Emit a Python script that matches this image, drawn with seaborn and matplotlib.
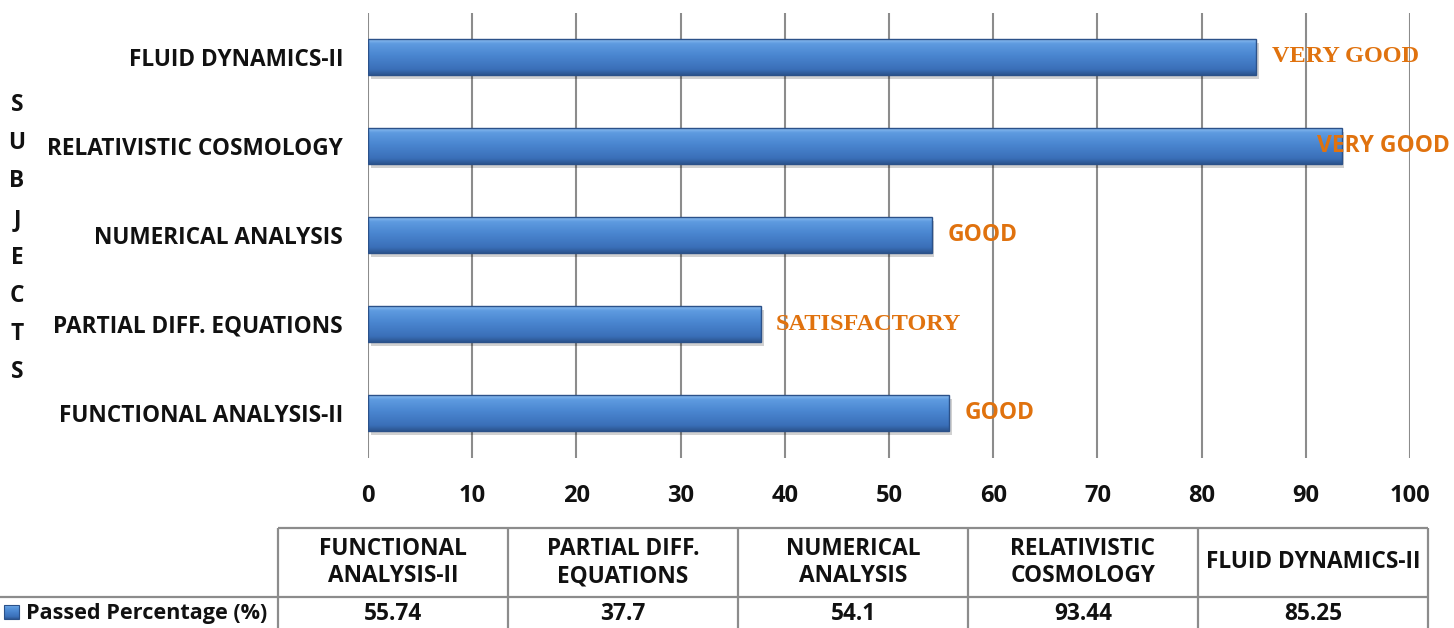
import numpy as np
import pandas as pd
import matplotlib
matplotlib.use("Agg")
import matplotlib.pyplot as plt
import matplotlib.patheffects as pe
import seaborn as sns
from matplotlib.colors import LinearSegmentedColormap

# ---------------- data ----------------
subjects = ["FUNCTIONAL ANALYSIS-II", "PARTIAL DIFF. EQUATIONS", "NUMERICAL ANALYSIS",
            "RELATIVISTIC COSMOLOGY", "FLUID DYNAMICS-II"]
table_headers = ["FUNCTIONAL\nANALYSIS-II", "PARTIAL DIFF.\nEQUATIONS", "NUMERICAL\nANALYSIS",
                 "RELATIVISTIC\nCOSMOLOGY", "FLUID DYNAMICS-II"]
passed = [55.74, 37.7, 54.1, 93.44, 85.25]
value_labels = ["55.74", "37.7", "54.1", "93.44", "85.25"]
grades = ["GOOD", "SATISFACTORY", "GOOD", "VERY GOOD", "VERY GOOD"]
x_ticks = list(range(0, 101, 10))
series_name = "Passed Percentage (%)"
axis_title = "SUBJECTS"

# ---------------- styling ----------------
grade_serif = [False, True, False, False, True]
grade_offset_pt = [11.5, 11, 11.5, -17.5, 11.5]
SANS = "Open Sans"
SERIF = "Liberation Serif"
ORANGE = "#E0720E"
GRID = "#8C8C8C"
TXT = "#111111"
FS = 16.3

sns.set_style("white")
plt.rcParams["font.family"] = [SANS, "DejaVu Sans"]

W, H = 1454, 628
fig = plt.figure(figsize=(W / 100, H / 100), dpi=100)
ax = fig.add_axes([368 / W, 1 - 457.5 / H, (1410 - 368) / W, (457.5 - 12.5) / H])

df = pd.DataFrame({"subject": subjects, "passed": passed})
order = subjects[::-1]
sns.barplot(data=df, x="passed", y="subject", order=order, orient="h",
            width=0.4, color="#4A84CC", edgecolor="none", linewidth=0,
            ax=ax, zorder=3)

ax.set_xlim(0, 100)
ax.set_ylim(len(order) - 0.5, -0.5)

# gradient fill for bars, soft shadow, outline
cmap = LinearSegmentedColormap.from_list(
    "bar", [(0.0, "#8DBDF0"), (0.12, "#5E9BE0"), (0.45, "#4A86D0"),
            (0.85, "#3A6FB8"), (1.0, "#2C558F")])
grad = np.linspace(0, 1, 64).reshape(-1, 1)
for p in list(ax.patches):
    x0, y0 = p.get_x(), p.get_y()
    w, h = p.get_width(), p.get_height()
    p.set_path_effects([pe.SimplePatchShadow(offset=(2, -3), shadow_rgbFace="#000000",
                                             alpha=0.18), pe.Normal()])
    im = ax.imshow(grad, cmap=cmap, aspect="auto",
                   extent=[x0, x0 + w, y0 + h, y0], zorder=3.5,
                   interpolation="bicubic")
    im.set_clip_path(p)
    ax.add_patch(plt.Rectangle((x0, y0), w, h, fill=False, edgecolor="#2B5189",
                               linewidth=1.0, zorder=4))
ax.set_xlim(0, 100)
ax.set_ylim(len(order) - 0.5, -0.5)

# grade labels
for subj, val, g, serif, off in zip(subjects, passed, grades, grade_serif, grade_offset_pt):
    yi = order.index(subj)
    ax.annotate(g, xy=(val, yi), xytext=(off, 0), textcoords="offset points",
                ha="left", va="center", color=ORANGE, fontweight="bold",
                fontsize=17.5 if serif else 16.5,
                family=[SERIF] if serif else [SANS, "DejaVu Sans"], zorder=6)

# axes styling
ax.set_xticks(x_ticks)
ax.set_xticklabels([str(t) for t in x_ticks])
ax.grid(axis="x", color=GRID, linewidth=1.5, zorder=0)
ax.grid(axis="y", visible=False)
for s in ax.spines.values():
    s.set_visible(False)
ax.tick_params(axis="x", length=0, pad=19, labelsize=17, labelcolor=TXT)
ax.tick_params(axis="y", length=0, pad=18, labelsize=FS, labelcolor=TXT)
for lab in ax.get_xticklabels() + ax.get_yticklabels():
    lab.set_fontweight("bold")
ax.set_xlabel("")
ax.set_ylabel("")

# vertical axis title
for i, ch in enumerate(axis_title):
    fig.text(17 / W, 1 - (105 + 38.2 * i) / H, ch, ha="center", va="center",
             fontsize=FS, fontweight="bold", color=TXT)

# ---------------- data table ----------------
tax = fig.add_axes([0, 0, 1, 1], zorder=-1)
tax.set_xlim(0, W)
tax.set_ylim(H, 0)
tax.axis("off")
col_left, col_w = 278, 230
top, mid, bot = 528, 597, 629
n = len(subjects)
lkw = dict(color=GRID, linewidth=1.6, solid_capstyle="butt")
tax.plot([col_left, col_left + n * col_w], [top, top], **lkw)
tax.plot([0, col_left + n * col_w], [mid, mid], **lkw)
for i in range(n + 1):
    xx = col_left + i * col_w
    tax.plot([xx, xx], [top, bot], **lkw)
for i, (hd, vl) in enumerate(zip(table_headers, value_labels)):
    cx = col_left + (i + 0.5) * col_w
    tax.text(cx, (top + mid) / 2, hd, ha="center", va="center", fontsize=FS,
             fontweight="bold", color=TXT, linespacing=1.22)
    tax.text(cx, (mid + H) / 2 + 1, vl, ha="center", va="center", fontsize=FS,
             fontweight="bold", color=TXT)
# legend key
key = tax.imshow(grad, cmap=cmap, aspect="auto", extent=[4, 19, 619, 605],
                 interpolation="bicubic")
tax.add_patch(plt.Rectangle((4, 605), 15, 14, fill=False, edgecolor="#2B5189", linewidth=0.8))
tax.set_xlim(0, W)
tax.set_ylim(H, 0)
tax.text(26, (mid + H) / 2 + 1, series_name, ha="left", va="center", fontsize=15.6,
         fontweight="bold", color=TXT)

fig.savefig("out.png", dpi=100)
